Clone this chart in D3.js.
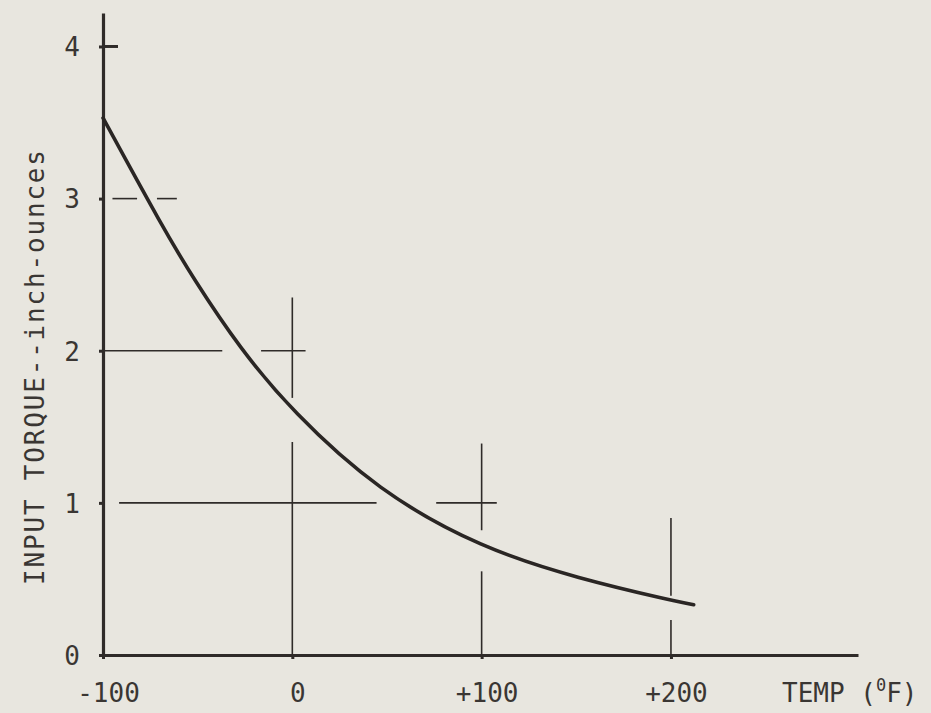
<!DOCTYPE html>
<html>
<head>
<meta charset="utf-8">
<script src="https://cdn.jsdelivr.net/npm/d3@7"></script>
<style>
  html, body { margin: 0; padding: 0; background: #e8e6df; }
  svg { display: block; }
  text { font-family: "DejaVu Sans Mono", monospace; fill: #3a3633; }
</style>
</head>
<body>
<script>
// curve: temperature (F) vs input torque (inch-ounces)
const temps  = [-100, -68, -52, -28, 0, 45, 100, 152, 200, 212];
const torque = [3.53, 2.80, 2.47, 2.02, 1.60, 1.08, 0.70, 0.50, 0.36, 0.33];

const xTicks = [-100, 0, 100, 200];
const xTickLabels = ["-100", "0", "+100", "+200"];
const yTicks = [0, 1, 2, 3, 4];

// the partial reference lines drawn on the sheet (data units)
const hLines = [
    { y: 3, x0: -95, x1: -82 },
    { y: 3, x0: -71.5, x1: -61 },
    { y: 2, x0: -99, x1: -37 },
    { y: 2, x0: -16.5, x1: 7 },
    { y: 1, x0: -91.5, x1: 44.5 },
    { y: 1, x0: 76, x1: 108 }
];
const vLines = [
    { x: 0, y0: 2.35, y1: 1.69 },
    { x: 0, y0: 1.40, y1: 0 },
    { x: 100, y0: 1.39, y1: 0.82 },
    { x: 100, y0: 0.55, y1: 0 },
    { x: 200, y0: 0.90, y1: 0.39 },
    { x: 200, y0: 0.23, y1: 0 }
];

const W = 931, H = 713;
const ink = "#2f2b29";

const svg = d3.select("body").append("svg")
    .attr("width", W)
    .attr("height", H);

const x = d3.scaleLinear().domain([-100, 298.8]).range([103, 858]);
const y = d3.scaleLinear().domain([0, 4.22]).range([655, 13]);

// grid fragments
svg.append("g").selectAll("line")
    .data(hLines)
    .join("line")
    .attr("x1", d => x(d.x0))
    .attr("x2", d => x(d.x1))
    .attr("y1", d => y(d.y))
    .attr("y2", d => y(d.y))
    .attr("stroke", ink)
    .attr("stroke-width", 1.6);

svg.append("g").selectAll("line")
    .data(vLines)
    .join("line")
    .attr("x1", d => x(d.x))
    .attr("x2", d => x(d.x))
    .attr("y1", d => y(d.y0))
    .attr("y2", d => y(d.y1))
    .attr("stroke", ink)
    .attr("stroke-width", 1.6);

// axes
const yAxis = svg.append("g")
    .attr("transform", `translate(${x(-100)},0)`)
    .call(d3.axisLeft(y).tickValues(yTicks).tickSize(4).tickSizeOuter(0).tickFormat(d3.format("d")));

const xAxis = svg.append("g")
    .attr("transform", `translate(0,${y(0)})`)
    .call(d3.axisBottom(x).tickValues(xTicks).tickSize(4).tickSizeOuter(0).tickFormat((d, i) => xTickLabels[i]));

[yAxis, xAxis].forEach(g => {
    g.select(".domain").attr("stroke", ink).attr("stroke-width", 3.2);
    g.selectAll(".tick line").attr("stroke", ink).attr("stroke-width", 3);
    g.selectAll(".tick text")
        .attr("fill", "#3a3633")
        .style("font-family", "DejaVu Sans Mono")
        .style("font-size", "26px");
});

yAxis.selectAll(".tick text")
    .attr("x", -31)
    .attr("dy", "0.36em")
    .attr("text-anchor", "middle");

xAxis.selectAll(".tick text")
    .attr("x", 5)
    .attr("y", 47)
    .attr("dy", 0)
    .attr("text-anchor", "middle");

// the little tick on the right side at the top value
svg.append("line")
    .attr("x1", x(-100))
    .attr("x2", x(-100) + 15)
    .attr("y1", y(4))
    .attr("y2", y(4))
    .attr("stroke", ink)
    .attr("stroke-width", 3);

// curve
const line = d3.line()
    .x(d => x(d[0]))
    .y(d => y(d[1]))
    .curve(d3.curveBasis);

svg.append("path")
    .datum(temps.map((t, i) => [t, torque[i]]))
    .attr("d", line)
    .attr("fill", "none")
    .attr("stroke", "#2a2624")
    .attr("stroke-width", 3.6)
    .attr("stroke-linecap", "round");

// axis titles
svg.append("text")
    .attr("transform", `translate(44,${(150 + 585) / 2}) rotate(-90)`)
    .attr("text-anchor", "middle")
    .attr("textLength", 435)
    .attr("lengthAdjust", "spacing")
    .style("font-size", "26px")
    .text("INPUT TORQUE--inch-ounces");

const tempLabel = svg.append("text")
    .attr("x", 782)
    .attr("y", 702)
    .style("font-size", "26px");
tempLabel.append("tspan").text("TEMP (");
tempLabel.append("tspan").attr("dy", -11).style("font-size", "17px").text("0");
tempLabel.append("tspan").attr("dy", 11).text("F)");
</script>
</body>
</html>
